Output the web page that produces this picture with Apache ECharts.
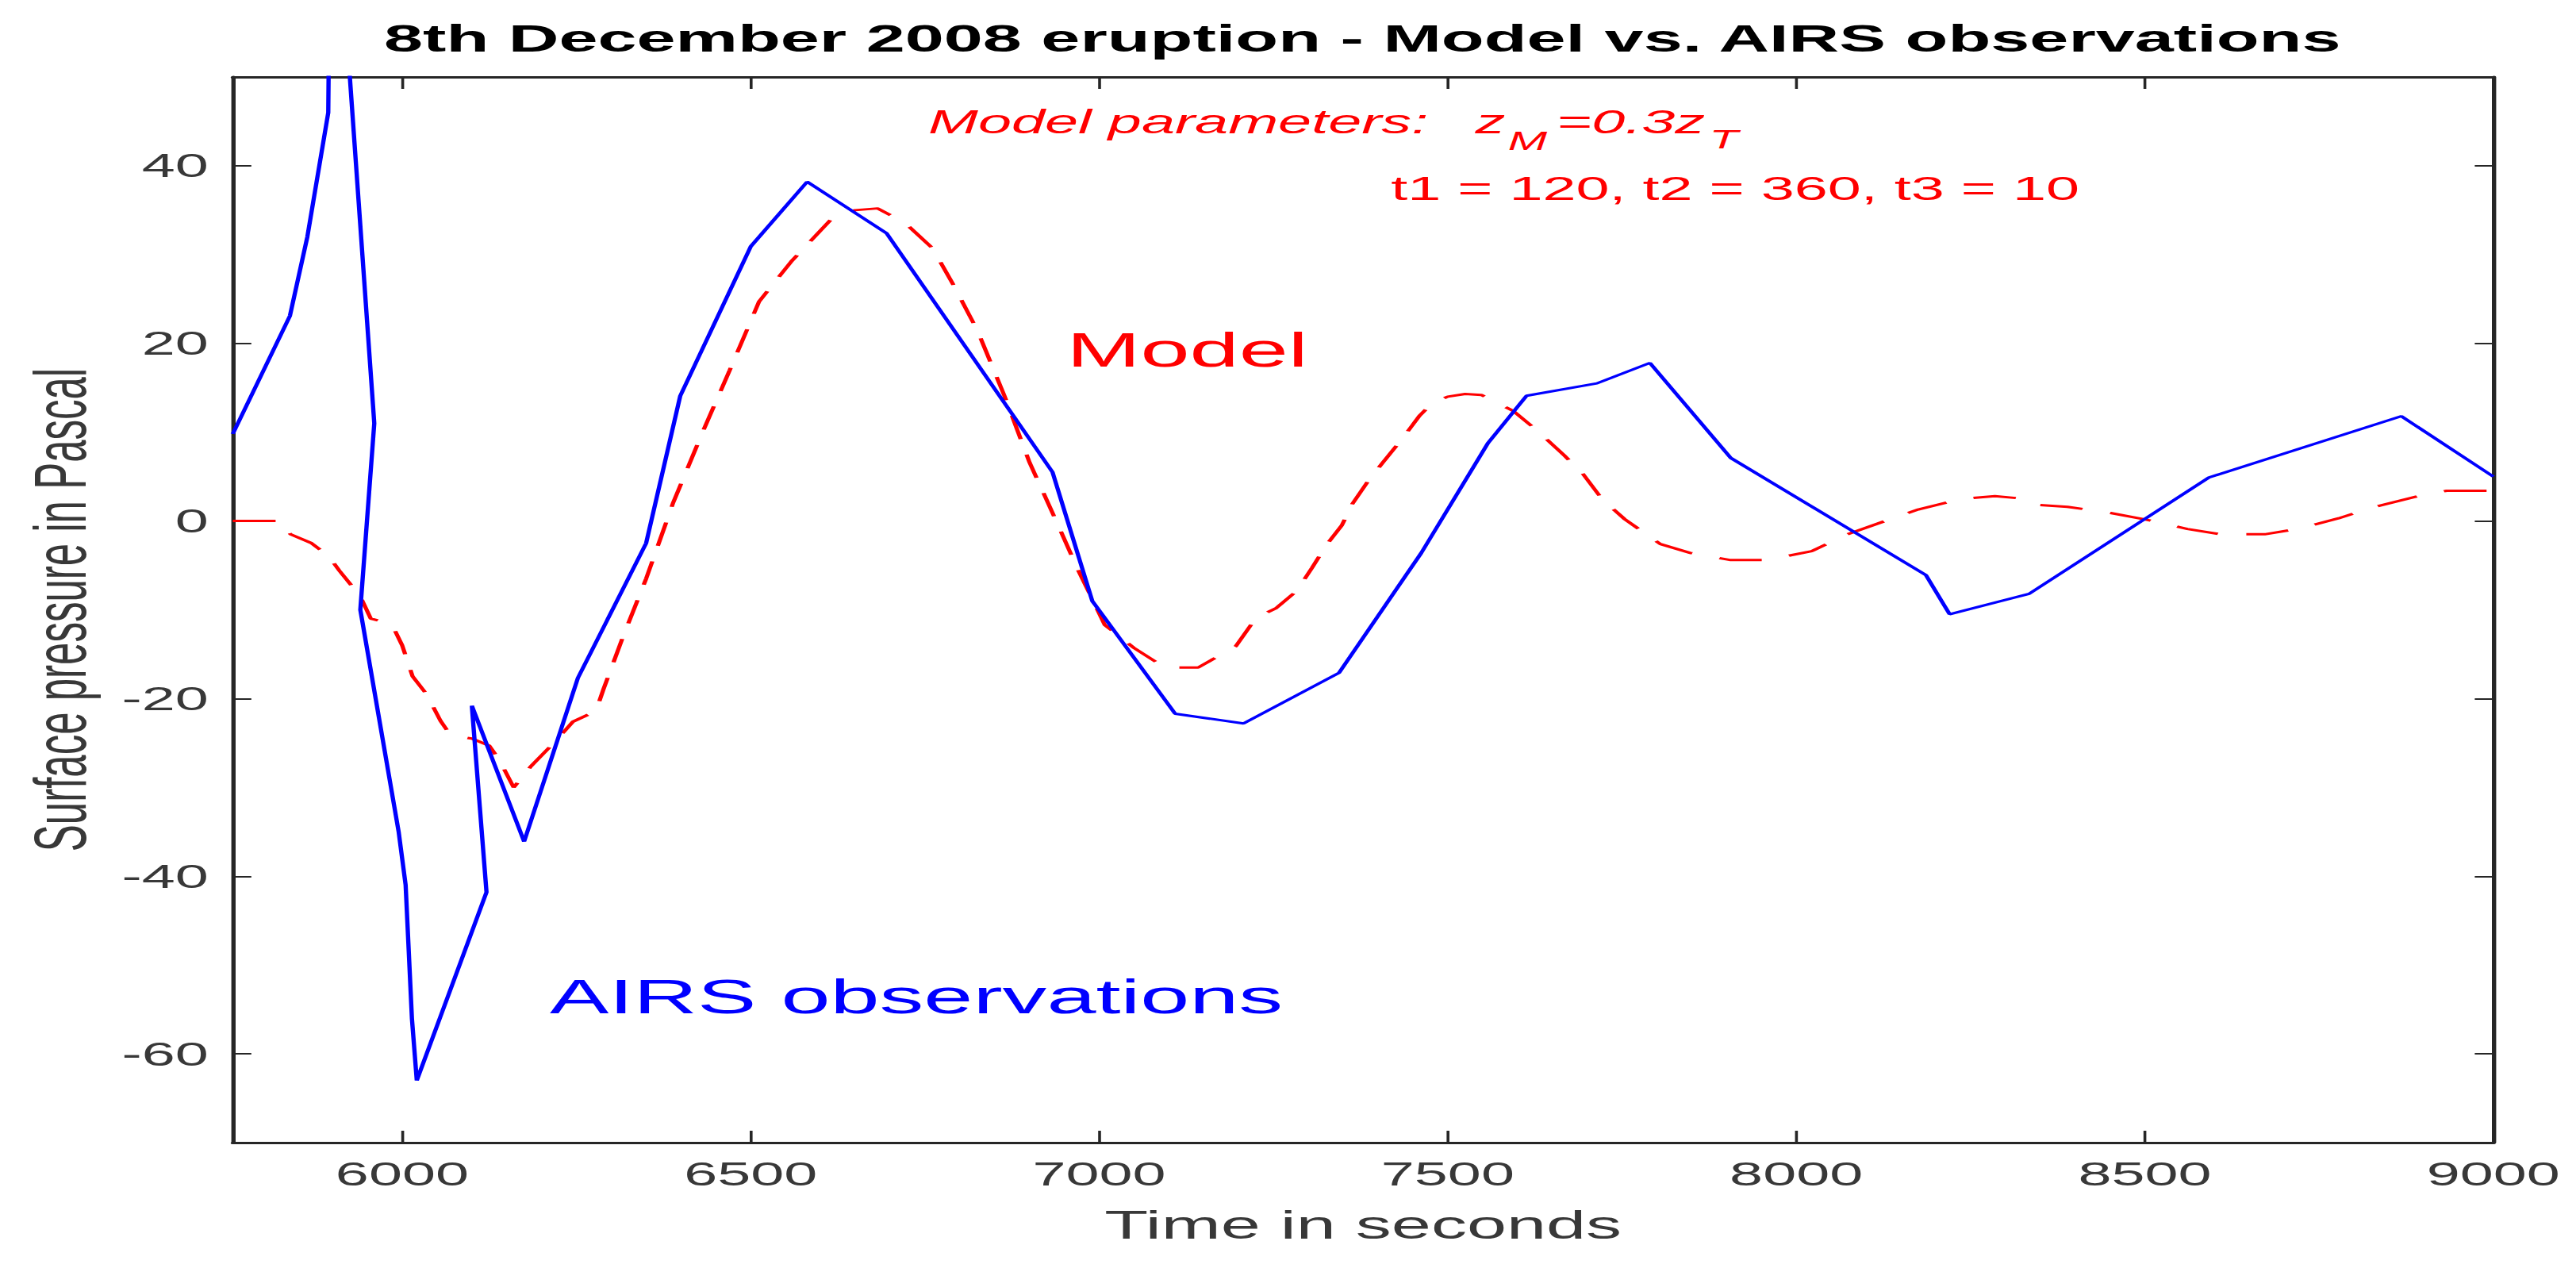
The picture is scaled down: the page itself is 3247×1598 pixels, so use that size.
<!DOCTYPE html>
<html>
<head>
<meta charset="utf-8">
<title>8th December 2008 eruption - Model vs. AIRS observations</title>
<script src="https://cdn.jsdelivr.net/npm/echarts@6.0.0/dist/echarts.min.js"></script>
<style>
  html, body { margin: 0; padding: 0; background: #fff; overflow: hidden; }
  /* the figure is drawn in a narrower frame and stretched sideways, like the original */
  #chart { width: 1804px; height: 1598px; transform: scaleX(1.8); transform-origin: 0 0; }
</style>
</head>
<body>
<div id="chart"></div>
<script>
// tick labels
var xTicks = [6000, 6500, 7000, 7500, 8000, 8500, 9000];
var yTicks = [-60, -40, -20, 0, 20, 40];

// AIRS observations (blue), time in s / pressure in Pa
var airsTime = [5757, 5839, 5864, 5894, 5898, 5960, 5940, 5995, 6005, 6014, 6021, 6121, 6100, 6175,
  6252, 6350, 6399, 6500, 6581, 6695, 6933, 6990, 7109, 7207, 7344, 7462, 7558, 7613, 7714, 7790,
  7906, 8186, 8220, 8334, 8592, 8868, 9000];
var airsPressure = [9.8, 23.1, 32, 46, 80, 11, -10, -35, -41, -56, -63, -41.8, -20.8, -36.1,
  -17.7, -2.5, 14.1, 30.9, 38.2, 32.4, 5.5, -9, -21.7, -22.8, -17.1, -3.6, 8.8, 14.1, 15.5, 17.8,
  7.1, -6.1, -10.5, -8.2, 4.9, 11.8, 5.0];

// Model (red dashed)
var modelTime = [5757, 5825, 5840, 5870, 5895, 5910, 5940, 5955, 5985, 6000, 6015, 6035, 6055, 6070,
  6100, 6125, 6140, 6160, 6185, 6220, 6245, 6278, 6289, 6317, 6350, 6389, 6431, 6470, 6512, 6558,
  6617, 6650, 6682, 6721, 6761, 6790, 6825, 6864, 6900, 6936, 6969, 7008, 7050, 7094, 7142, 7196,
  7225, 7254, 7283, 7305, 7326, 7348, 7363, 7384, 7406, 7435, 7460, 7478, 7500, 7525, 7548, 7594,
  7631, 7667, 7694, 7722, 7754, 7805, 7848, 7906, 7957, 8022, 8073, 8131, 8175, 8237, 8285, 8327,
  8347, 8389, 8451, 8499, 8561, 8609, 8672, 8719, 8778, 8826, 8892, 8933, 9000];
var modelPressure = [0, 0, -1.5, -2.5, -4, -5.6, -8.5, -11, -11.6, -14, -17.5, -19.5, -22.5, -24.2,
  -24.5, -25.3, -27, -30, -27.6, -24.8, -22.6, -21.4, -18.9, -13, -6.5, 2.1, 10, 17, 24.7, 29.2,
  34.1, 35, 35.2, 33.6, 30.7, 26.7, 21.5, 14.1, 6.6, 0.4, -5.4, -11.7, -14.3, -16.5, -16.5, -14.1,
  -10.9, -9.8, -7.9, -5.3, -2.7, -0.5, 1.9, 4.3, 6.5, 9.3, 11.9, 13.3, 14.0, 14.3, 14.2, 12.4,
  10, 7.4, 5.3, 2.4, 0.2, -2.6, -3.6, -4.4, -4.4, -3.4, -1.5, 0.1, 1.3, 2.5, 2.8, 2.5,
  1.8, 1.6, 0.9, 0.2, -0.9, -1.5, -1.5, -0.9, 0.3, 1.5, 2.8, 3.4, 3.4];

var FONT = '"Liberation Sans", Arial, Helvetica, sans-serif';
var AXIS_COLOR = '#262626';
var LABEL_COLOR = '#383838';

function pairs(xs, ys) {
  return xs.map(function (x, i) { return [x, ys[i]]; });
}

// plain numbers, no thousands separator
function plain(v) { return String(v); }

function xAxisCfg(pos, withLabels) {
  return {
    type: 'value',
    position: pos,
    min: 5757,
    max: 9000,
    splitLine: { show: false },
    axisLine: { show: true, onZero: false, lineStyle: { color: AXIS_COLOR, width: 3 } },
    axisTick: { show: true, inside: true, length: 15, customValues: xTicks,
      lineStyle: { color: AXIS_COLOR, width: 2 } },
    axisLabel: { show: withLabels, customValues: xTicks, margin: 19, formatter: plain,
      fontSize: 42, fontFamily: FONT, color: LABEL_COLOR },
    name: withLabels ? 'Time in seconds' : '',
    nameLocation: 'middle',
    nameGap: 78,
    nameTextStyle: { fontSize: 50, fontFamily: FONT, color: LABEL_COLOR }
  };
}

function yAxisCfg(pos, withLabels) {
  return {
    type: 'value',
    position: pos,
    min: -70,
    max: 50,
    splitLine: { show: false },
    axisLine: { show: true, onZero: false, lineStyle: { color: AXIS_COLOR, width: 3 } },
    axisTick: { show: true, inside: true, length: 13, customValues: yTicks,
      lineStyle: { color: AXIS_COLOR, width: 2 } },
    axisLabel: { show: withLabels, customValues: yTicks, margin: 17, formatter: plain,
      fontSize: 42, fontFamily: FONT, color: LABEL_COLOR },
    name: withLabels ? 'Surface pressure in Pascal' : '',
    nameLocation: 'middle',
    nameGap: 95,
    nameTextStyle: { fontSize: 51, fontFamily: FONT, color: LABEL_COLOR }
  };
}

function label(x, y, text, color, size, extra) {
  var style = {
    text: text, fill: color, fontSize: size, fontFamily: FONT,
    align: 'left', verticalAlign: 'middle'
  };
  for (var k in extra) style[k] = extra[k];
  return { type: 'text', x: x, y: y, z: 100, style: style };
}

var chart = echarts.init(document.getElementById('chart'), null, { renderer: 'svg' });

var option = {
  animation: false,
  backgroundColor: '#fff',
  grid: { left: 163, right: 58, top: 97, bottom: 158 },
  xAxis: [xAxisCfg('bottom', true), xAxisCfg('top', false)],
  yAxis: [yAxisCfg('left', true), yAxisCfg('right', false)],
  graphic: [
    label(954, 48, '8th December 2008 eruption - Model vs. AIRS observations', '#000', 49,
      { fontWeight: 'bold', align: 'center' }),
    label(650, 154, 'Model parameters:', '#ff0000', 42, { fontStyle: 'italic' }),
    label(1033, 154, 'z', '#ff0000', 42, { fontStyle: 'italic' }),
    label(1056, 178, 'M', '#ff0000', 33, { fontStyle: 'italic' }),
    label(1090, 154, '=0.3z', '#ff0000', 42, { fontStyle: 'italic' }),
    label(1197, 176, 'T', '#ff0000', 33, { fontStyle: 'italic' }),
    label(974, 238, 't1 = 120, t2 = 360, t3 = 10', '#ff0000', 42),
    label(747, 440, 'Model', '#ff0000', 62),
    label(385, 1255, 'AIRS observations', '#0000ff', 62)
  ],
  series: [
    {
      name: 'Model',
      type: 'line',
      data: pairs(modelTime, modelPressure),
      showSymbol: false,
      clip: true,
      lineStyle: { color: '#ff0000', width: 3, type: [30, 20] },
      z: 3
    },
    {
      name: 'AIRS observations',
      type: 'line',
      data: pairs(airsTime, airsPressure),
      showSymbol: false,
      clip: true,
      lineStyle: { color: '#0000ff', width: 3 },
      z: 4
    }
  ]
};

chart.setOption(option);
</script>
</body>
</html>
